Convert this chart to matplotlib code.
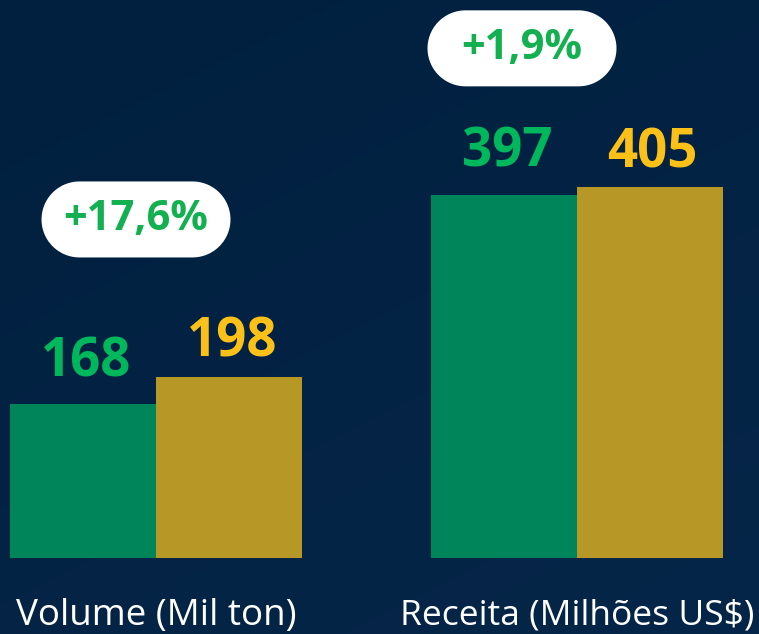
import numpy as np
import matplotlib
matplotlib.use("Agg")
import matplotlib.pyplot as plt
from matplotlib.colors import LinearSegmentedColormap
from matplotlib.patches import Polygon
from matplotlib.transforms import IdentityTransform

# Data
categories = ["Volume (Mil ton)", "Receita (Milhões US$)"]
series_prev = [168, 397]
series_curr = [198, 405]
growth_labels = ["+17,6%", "+1,9%"]
growth_y = [370, 557]

GREEN_BAR = "#00845a"
GOLD_BAR = "#b79726"
GREEN_TXT = "#00b85c"
GOLD_TXT = "#fcc118"
PILL_TXT = "#12b050"

plt.rcParams['font.family'] = ['Open Sans', 'DejaVu Sans']

fig = plt.figure(figsize=(7.59, 6.34), dpi=100)

# background gradient
bg = fig.add_axes([0, 0, 1, 1], zorder=0)
cmap = LinearSegmentedColormap.from_list("bg", ["#01203f", "#062649"])
grad = np.add.outer(np.linspace(0, 1, 200), np.linspace(0, 0.6, 200))
bg.imshow(grad, cmap=cmap, aspect="auto", extent=[0, 1, 0, 1], origin="upper")
bg.axis("off")

ax = fig.add_axes([0, (634 - 558) / 634, 1, 558 / 634], zorder=1)
ax.patch.set_alpha(0)
x = np.arange(len(categories))
w = 146 / 421
ax.set_xlim(-156 / 421, (759 - 156) / 421)
ax.set_ylim(0, 558 / 0.915)

ax.bar(x - w / 2, series_prev, width=w, color=GREEN_BAR, zorder=2)
ax.bar(x + w / 2, series_curr, width=w, color=GOLD_BAR, zorder=2)

for xi, v in zip(x - w / 2, series_prev):
    ax.annotate(str(v), (xi, v), xytext=(2, 11), textcoords="offset points",
                ha="center", va="bottom", fontsize=38, fontweight="bold", color=GREEN_TXT)
for xi, v in zip(x + w / 2, series_curr):
    ax.annotate(str(v), (xi, v), xytext=(2, 5), textcoords="offset points",
                ha="center", va="bottom", fontsize=38, fontweight="bold", color=GOLD_TXT)

# fixed-size white stadium pills with growth labels
pill_x = [-20 / 421, 1 - 55 / 421]
PW, PH = 189, 76
r = PH / 2
th_r = np.linspace(-np.pi / 2, np.pi / 2, 40)
th_l = np.linspace(np.pi / 2, 3 * np.pi / 2, 40)
for px, py, lab in zip(pill_x, growth_y, growth_labels):
    cx, cy = ax.transData.transform((px, py))
    right = np.column_stack([cx + PW / 2 - r + r * np.cos(th_r), cy + r * np.sin(th_r)])
    left = np.column_stack([cx - PW / 2 + r + r * np.cos(th_l), cy + r * np.sin(th_l)])
    pill = Polygon(np.vstack([right, left]), closed=True, fc="white", ec="none",
                   transform=IdentityTransform(), zorder=3, clip_on=False)
    ax.add_artist(pill)
    ax.text(px, py, lab, ha="center", va="center", fontsize=30, fontweight="bold",
            color=PILL_TXT, zorder=4)

ax.set_xticks(x)
ax.set_xticklabels(categories, color="white")
for lbl, fs in zip(ax.get_xticklabels(), [26.5, 25.5]):
    lbl.set_fontsize(fs)
ax.tick_params(axis="x", length=0, pad=29)
ax.set_yticks([])
for s in ax.spines.values():
    s.set_visible(False)

fig.savefig("out.png", dpi=100)
